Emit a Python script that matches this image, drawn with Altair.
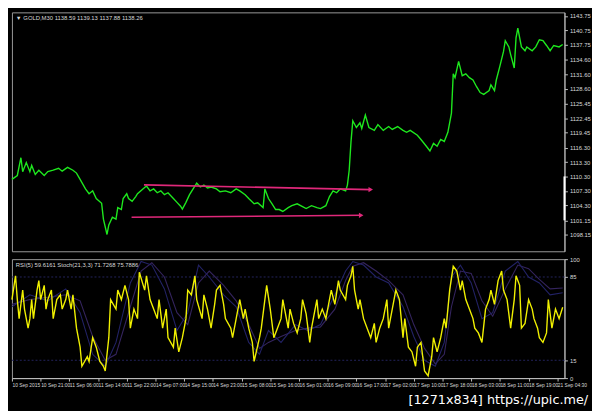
import altair as alt
import pandas as pd

# ---------------- data ----------------
price_bar = [0, 3, 5, 6, 8, 10, 11, 13, 15, 18, 20, 23, 26, 28, 31, 34, 36, 38, 41, 43,
             45, 47, 50, 51, 53, 54, 56, 58, 59, 61, 62, 64, 65, 67, 69, 70, 73, 75, 77, 79,
             81, 83, 85, 87, 90, 92, 94, 95, 97, 99, 101, 103, 105, 107, 109, 111, 114, 116, 119, 122,
             125, 127, 130, 132, 135, 137, 140, 141, 143, 145, 147, 149, 151, 154, 156, 159, 162, 164, 167, 170,
             172, 175, 177, 179, 181, 183, 186, 187, 188, 189, 190, 192, 194, 195, 197, 199, 202, 204, 207, 210,
             212, 215, 218, 220, 222, 226, 228, 231, 233, 235, 237, 239, 241, 243, 245, 246, 247, 249, 251, 253,
             255, 257, 259, 261, 263, 266, 267, 269, 270, 272, 274, 275, 277, 278, 280, 281, 282, 284, 286, 287,
             290, 292, 294, 296, 298, 300, 302, 305, 307]
price_close = [1109.7, 1110.5, 1114.2, 1111.3, 1113.2, 1111.3, 1112.6, 1110.7, 1111.6, 1110.5,
               1111.3, 1111.6, 1112.0, 1111.4, 1112.2, 1111.6, 1111.0, 1109.7, 1107.7, 1106.7,
               1107.3, 1105.7, 1104.7, 1101.4, 1098.2, 1100.2, 1101.8, 1101.4, 1103.8, 1103.4,
               1105.7, 1106.7, 1105.7, 1105.1, 1106.1, 1106.7, 1107.7, 1108.3, 1107.3, 1107.7,
               1106.9, 1107.3, 1106.5, 1106.9, 1105.7, 1104.9, 1104.1, 1103.5, 1104.9, 1106.5,
               1107.7, 1108.9, 1108.1, 1108.5, 1107.9, 1108.1, 1107.7, 1107.1, 1107.3, 1106.9,
               1107.7, 1107.3, 1106.5, 1105.7, 1104.6, 1104.8, 1103.8, 1107.7, 1105.7, 1104.6,
               1103.4, 1103.4, 1103.0, 1103.8, 1104.2, 1104.6, 1104.0, 1103.6, 1104.2, 1103.8,
               1103.6, 1104.2, 1106.1, 1107.3, 1106.9, 1107.7, 1107.3, 1108.5, 1111.6, 1117.5,
               1121.9, 1120.5, 1121.5, 1120.3, 1123.1, 1120.5, 1119.9, 1121.1, 1119.9, 1120.7,
               1120.1, 1120.7, 1119.9, 1119.5, 1119.9, 1118.9, 1118.0, 1116.6, 1115.6, 1117.2,
               1116.6, 1118.0, 1117.6, 1119.5, 1123.5, 1131.7, 1130.9, 1134.3, 1131.3, 1131.7,
               1130.9, 1130.4, 1129.0, 1127.8, 1127.4, 1128.2, 1129.4, 1128.2, 1130.4, 1133.3,
               1136.3, 1138.6, 1137.3, 1135.7, 1132.9, 1139.2, 1141.2, 1137.3, 1136.5, 1137.3,
               1136.5, 1137.3, 1138.8, 1138.6, 1137.6, 1136.5, 1137.6, 1137.3, 1137.8]

rsi_bar = [0, 2, 3, 4, 6, 7, 9, 10, 11, 12, 14, 15, 16, 18, 19, 20, 22, 23, 25, 27,
           28, 30, 31, 33, 34, 36, 38, 39, 42, 43, 45, 47, 49, 51, 52, 54, 55, 58, 59, 61,
           63, 65, 66, 68, 70, 71, 74, 75, 77, 79, 81, 82, 84, 86, 87, 90, 91, 93, 95, 97,
           98, 100, 102, 103, 106, 107, 109, 111, 113, 114, 116, 118, 119, 122, 123, 125, 127, 129, 130, 132,
           134, 135, 138, 139, 141, 142, 144, 146, 148, 150, 151, 154, 155, 157, 159, 161, 162, 164, 166, 167,
           170, 171, 173, 175, 177, 178, 180, 182, 183, 186, 187, 189, 190, 191, 193, 194, 196, 198, 200, 202,
           203, 205, 207, 209, 210, 212, 214, 216, 218, 219, 221, 223, 225, 226, 228, 230, 232, 234, 235, 237,
           239, 241, 242, 244, 246, 248, 250, 251, 253, 255, 257, 258, 260, 262, 264, 266, 267, 269, 271, 273,
           274, 276, 278, 280, 281, 283, 284, 286, 288, 290, 291, 293, 294, 296, 298, 299, 301, 303, 305, 307]
rsi_value = [66, 86, 66, 50, 74, 58, 42, 50, 66, 50, 74, 82, 66, 78, 58, 66, 74, 50, 66, 70,
             58, 66, 74, 58, 70, 42, 26, 10, 18, 14, 34, 26, 14, 10, 6, 34, 66, 58, 74, 66,
             78, 66, 42, 58, 50, 89, 74, 86, 66, 58, 50, 66, 42, 58, 34, 26, 42, 22, 34, 50,
             74, 70, 86, 66, 50, 70, 58, 42, 62, 74, 78, 62, 50, 42, 34, 50, 66, 50, 58, 42,
             30, 14, 34, 42, 66, 78, 58, 34, 42, 50, 66, 42, 58, 46, 38, 50, 66, 54, 30, 42,
             66, 50, 58, 50, 66, 74, 62, 82, 74, 66, 78, 86, 94, 74, 58, 66, 50, 42, 34, 46,
             30, 42, 50, 66, 42, 58, 74, 66, 34, 50, 26, 22, 10, 26, 30, 6, 2, 18, 34, 22,
             34, 50, 42, 74, 94, 90, 74, 82, 66, 58, 50, 42, 38, 30, 58, 66, 74, 62, 82, 90,
             74, 66, 42, 66, 86, 78, 42, 46, 66, 58, 50, 42, 34, 30, 38, 66, 42, 58, 50, 59.6]

stoch_bar = [0, 10, 20, 30, 38, 45, 52, 58, 66, 72, 78, 85, 92, 98, 104, 110, 118, 125, 132, 138,
             143, 150, 158, 165, 172, 180, 186, 190, 196, 203, 210, 218, 224, 230, 236, 241, 245, 250, 256, 262,
             268, 275, 282, 288, 294, 300, 307]
stoch_main = [60, 70, 65, 75, 55, 20, 10, 30, 80, 98, 95, 75, 40, 55, 95, 85, 70, 60, 30, 20,
              40, 30, 45, 40, 45, 70, 90, 98, 95, 85, 80, 60, 35, 15, 10, 30, 85, 95, 80, 50,
              55, 90, 98, 85, 80, 70, 71.7]
stoch_signal = [62, 66, 68, 70, 65, 35, 15, 20, 60, 90, 97, 85, 55, 45, 80, 90, 78, 65, 45, 25,
                30, 35, 40, 42, 43, 58, 82, 94, 97, 90, 82, 70, 45, 25, 12, 20, 60, 90, 88, 65,
                52, 75, 95, 92, 83, 75, 75.8]

time_labels = ["10 Sep 2015", "10 Sep 21:00", "11 Sep 06:00", "11 Sep 14:00", "11 Sep 22:00",
               "14 Sep 07:00", "14 Sep 15:00", "14 Sep 23:00", "15 Sep 08:00", "15 Sep 16:00",
               "16 Sep 01:00", "16 Sep 09:00", "16 Sep 17:00", "17 Sep 02:00", "17 Sep 10:00",
               "17 Sep 18:00", "18 Sep 03:00", "18 Sep 11:00", "18 Sep 19:00", "21 Sep 04:30"]
time_label_bars = [0, 16, 32, 48, 64, 80, 96, 112, 128, 144, 160, 176, 192, 208, 224, 240,
                   256, 272, 288, 304]

price_ticks = [1143.75, 1140.75, 1137.75, 1134.60, 1131.60, 1128.60, 1125.45, 1122.45,
               1119.45, 1116.30, 1113.30, 1110.30, 1107.30, 1104.30, 1101.15, 1098.15]
rsi_ticks = [0, 15, 85, 100]

trend_x1 = [73.6, 66.7]
trend_y1 = [1108.55, 1101.8]
trend_x2 = [200.0, 194.7]
trend_y2 = [1107.56, 1102.2]

marker_low = [1101.15]
marker_high = [1110.30]

header_main = "\u25bc GOLD,M30  1138.59 1139.13 1137.88 1138.26"
header_rsi = "RSI(5) 59.6161   Stoch(21,3,3) 71.7268 75.7886"
watermark = "[1271x834] https://upic.me/"

# ---------------- chart ----------------
W = 562
H_MAIN = 243
H_RSI = 121
XDOM = [0, 308]
FONT = "Liberation Sans"
NARROW = "'Liberation Sans Narrow', 'Liberation Sans', sans-serif"
LBL = "#d8d8d8"

xs = alt.Scale(domain=XDOM, nice=False, zero=False)
ys_price = alt.Scale(domain=[1094.7, 1144.5], nice=False, zero=False)
ys_rsi = alt.Scale(domain=[0, 100], nice=False)

price_df = pd.DataFrame({"bar": price_bar, "close": price_close})
trend_df = pd.DataFrame({"x1": trend_x1, "y1": trend_y1, "x2": trend_x2, "y2": trend_y2})
marker_df = pd.DataFrame({"lo": marker_low, "hi": marker_high})

price_axis = alt.Axis(orient="right", values=price_ticks, format=".2f", grid=False,
                      labelColor=LBL, labelFontSize=6, labelFont=FONT, tickColor="#c0c0c0",
                      tickSize=3, domainColor="#c0c0c0", title=None, labelPadding=2,
                      labelOverlap=False, labelBound=False, labelFlush=False)

label_js = "[" + ",".join("'" + s + "'" for s in time_labels) + "][round(datum.value/16)]"
x_axis = alt.Axis(values=time_label_bars, labelExpr=label_js, labelAlign="left", grid=False,
                  labelColor=LBL, labelFontSize=5, labelFont=NARROW, tickColor="#c0c0c0",
                  tickSize=3, domainColor="#c0c0c0", title=None, labelPadding=2, labelOverlap=False,
                  labelFlush=False, labelBound=False)
rsi_axis = alt.Axis(orient="right", values=rsi_ticks, grid=False, labelColor=LBL,
                    labelFontSize=6, labelFont=FONT, tickColor="#c0c0c0", tickSize=3,
                    domainColor="#c0c0c0", title=None, labelPadding=2, labelOverlap=False,
                    labelFlush=False, labelBound=False)

price_line = alt.Chart(price_df).mark_line(color="#1ee81e", strokeWidth=1.4).encode(
    x=alt.X("bar:Q", scale=xs, axis=None),
    y=alt.Y("close:Q", scale=ys_price, axis=price_axis),
)
trend = alt.Chart(trend_df).mark_rule(color="#e0287a", strokeWidth=1.6).encode(
    x=alt.X("x1:Q", scale=xs, axis=None), x2="x2:Q",
    y=alt.Y("y1:Q", scale=ys_price, axis=price_axis), y2="y2:Q",
)
arrows = alt.Chart(trend_df).mark_point(shape="triangle-right", filled=True, color="#e0287a",
                                        size=28, opacity=1).encode(
    x=alt.X("x2:Q", scale=xs, axis=None), y=alt.Y("y2:Q", scale=ys_price, axis=price_axis),
)
marker = alt.Chart(marker_df).mark_rule(color="#ffffff", strokeWidth=2).encode(
    x=alt.value(W), y=alt.Y("lo:Q", scale=ys_price, axis=price_axis), y2="hi:Q",
)
head1 = alt.Chart(pd.DataFrame({"t": [header_main]})).mark_text(
    align="left", baseline="top", color=LBL, fontSize=6, font=FONT).encode(
    x=alt.value(4), y=alt.value(3), text="t:N")

main = alt.layer(price_line, trend, arrows, marker, head1).properties(width=W, height=H_MAIN)

rsi_df = pd.DataFrame({"bar": rsi_bar, "rsi": rsi_value})
stoch_df = pd.DataFrame({"bar": stoch_bar, "main": stoch_main, "signal": stoch_signal})
levels_df = pd.DataFrame({"lvl": [15, 85]})

levels = alt.Chart(levels_df).mark_rule(color="#24245e", strokeDash=[2, 2], strokeWidth=1).encode(
    y=alt.Y("lvl:Q", scale=ys_rsi, axis=rsi_axis))
st_sig = alt.Chart(stoch_df).mark_line(color="#34245e", strokeWidth=1.1).encode(
    x=alt.X("bar:Q", scale=xs, axis=x_axis), y=alt.Y("signal:Q", scale=ys_rsi, axis=rsi_axis))
st_main = alt.Chart(stoch_df).mark_line(color="#222266", strokeWidth=1.1).encode(
    x=alt.X("bar:Q", scale=xs, axis=x_axis), y=alt.Y("main:Q", scale=ys_rsi, axis=rsi_axis))
rsi_line = alt.Chart(rsi_df).mark_line(color="#f0f000", strokeWidth=1.4).encode(
    x=alt.X("bar:Q", scale=xs, axis=x_axis), y=alt.Y("rsi:Q", scale=ys_rsi, axis=rsi_axis))
head2 = alt.Chart(pd.DataFrame({"t": [header_rsi]})).mark_text(
    align="left", baseline="top", color=LBL, fontSize=6, font=FONT).encode(
    x=alt.value(4), y=alt.value(3), text="t:N")
wm = alt.Chart(pd.DataFrame({"t": [watermark]})).mark_text(
    align="right", baseline="middle", color="#ffffff", fontSize=13, font="DejaVu Sans").encode(
    x=alt.value(W + 24), y=alt.value(H_RSI + 22), text="t:N")

rsi = alt.layer(levels, st_sig, st_main, rsi_line, head2, wm).properties(width=W, height=H_RSI)

chart = alt.vconcat(main, rsi, spacing=3).properties(
    background="#000000", padding={"left": 0, "top": 0, "right": 0, "bottom": 0}
).configure_view(stroke="#9a9a9a", strokeWidth=1)

chart.save("out.html", embed_options={"renderer": "svg", "actions": False})
